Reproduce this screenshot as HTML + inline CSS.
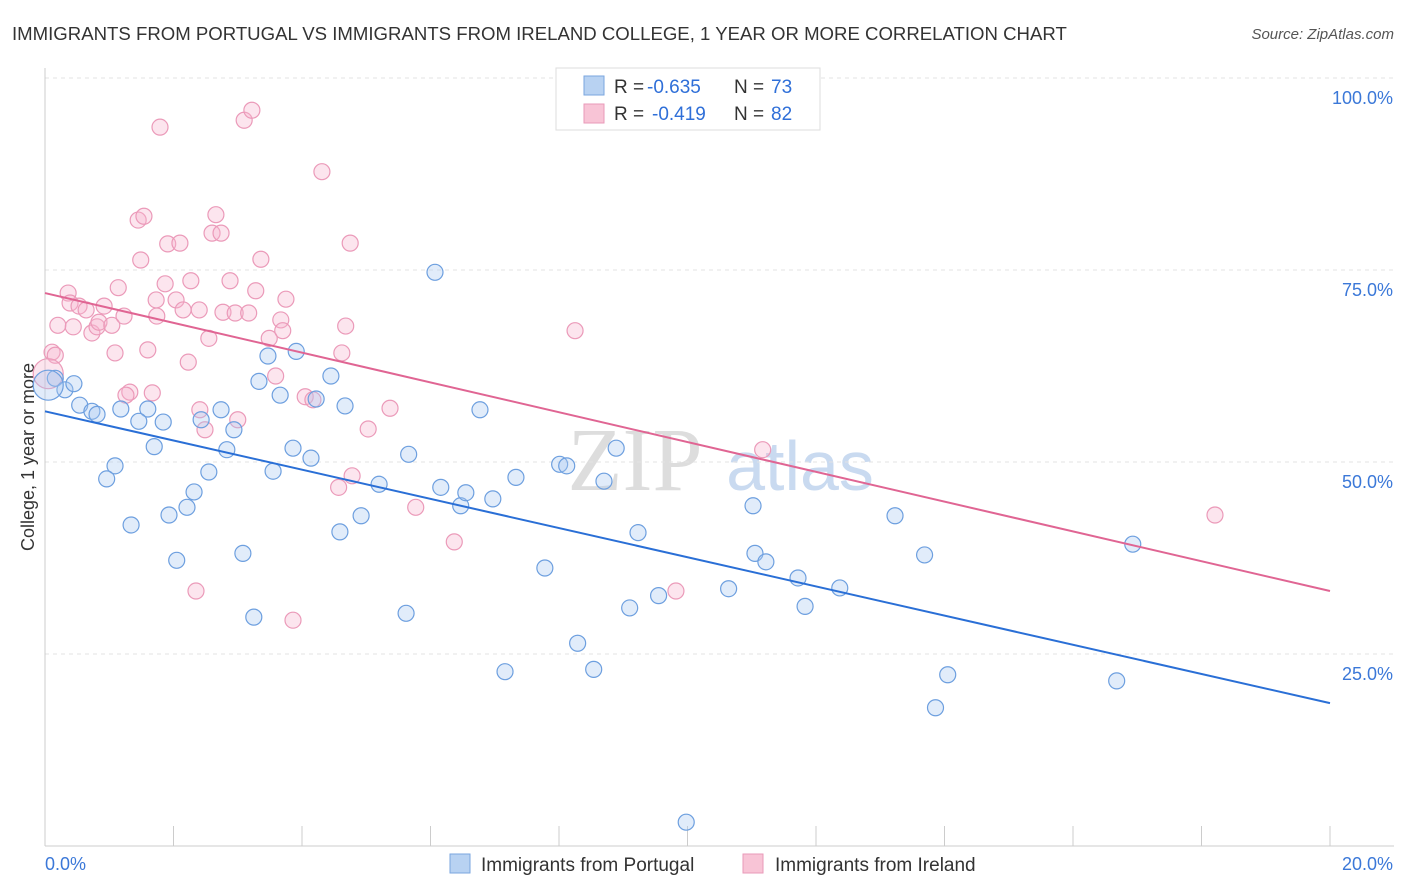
<!DOCTYPE html>
<html><head><meta charset="utf-8"><style>
body{margin:0;background:#fff;font-family:"Liberation Sans",sans-serif;}
svg{display:block}
</style></head><body>
<svg id="chart" width="1406" height="892">
<text x="12" y="40" font-size="18.6" fill="#333">IMMIGRANTS FROM PORTUGAL VS IMMIGRANTS FROM IRELAND COLLEGE, 1 YEAR OR MORE CORRELATION CHART</text>
<text x="1394" y="39" font-size="15" fill="#555" font-style="italic" text-anchor="end">Source: ZipAtlas.com</text>
<text x="34" y="457" font-size="18" fill="#333" text-anchor="middle" transform="rotate(-90 34 457)">College, 1 year or more</text>
<g>
<text x="635" y="490" font-size="90" fill="#ddd" font-family="Liberation Serif,serif" text-anchor="middle">ZIP</text>
<text x="800" y="490" font-size="70" fill="#c9daf0" text-anchor="middle">atlas</text>
</g>
<g id="grid"></g><g id="axes"></g><g id="pts"></g><g id="trends"></g>
<g>
<rect x="556" y="68" width="264" height="62" fill="#fff" stroke="#ddd"/>
<rect x="584" y="76" width="20" height="19" fill="#b8d2f2" stroke="#7aa6df"/>
<rect x="584" y="104" width="20" height="19" fill="#f8c4d6" stroke="#e99ab8"/>
<text x="614" y="93" font-size="19" fill="#333">R =</text>
<text x="647" y="93" font-size="19" fill="#2f6fd8">-0.635</text>
<text x="734" y="93" font-size="19" fill="#333">N =</text>
<text x="771" y="93" font-size="19" fill="#2f6fd8">73</text>
<text x="614" y="120" font-size="19" fill="#333">R =</text>
<text x="652" y="120" font-size="19" fill="#2f6fd8">-0.419</text>
<text x="734" y="120" font-size="19" fill="#333">N =</text>
<text x="771" y="120" font-size="19" fill="#2f6fd8">82</text>
</g>
<g>
<rect x="450" y="854" width="20" height="19" fill="#b8d2f2" stroke="#7aa6df"/>
<text x="481" y="871" font-size="19" fill="#333">Immigrants from Portugal</text>
<rect x="743" y="854" width="20" height="19" fill="#f8c4d6" stroke="#e99ab8"/>
<text x="775" y="871" font-size="19" fill="#333">Immigrants from Ireland</text>
</g>
</svg>
<script>
const yTicks=[25,50,75,100];
const yTickLabels=["25.0%","50.0%","75.0%","100.0%"];
const xEdgeLabels=["0.0%","20.0%"];
const blueX=[0.16,0.31,0.45,0.54,0.73,0.81,1.18,1.60,1.46,1.84,1.70,1.09,0.96,1.34,1.93,2.05,2.21,2.32,2.55,2.43,2.74,2.83,2.94,3.08,3.25,3.33,3.47,3.55,3.66,3.91,3.86,4.14,4.22,4.45,4.67,4.59,4.92,5.20,5.66,5.62,6.07,6.16,6.47,6.55,6.77,6.97,7.16,7.33,7.78,8.01,8.12,8.29,8.54,8.70,8.89,9.10,9.23,9.55,9.98,10.64,11.02,11.05,11.22,11.72,11.83,12.37,13.23,13.69,13.86,14.05,16.68,16.93,0.05];
const blueY=[60.9,59.4,60.2,57.4,56.6,56.2,56.9,56.9,55.3,55.2,52.0,49.5,47.8,41.8,43.1,37.2,44.1,46.1,48.7,55.5,56.8,51.6,54.2,38.1,29.8,60.5,63.8,48.8,58.7,64.4,51.8,50.5,58.2,61.2,57.3,40.9,43.0,47.1,51.0,30.3,74.7,46.7,44.3,46.0,56.8,45.2,22.7,48.0,36.2,49.7,49.5,26.4,23.0,47.5,51.8,31.0,40.8,32.6,3.1,33.5,44.3,38.1,37.0,34.9,31.2,33.6,43.0,37.9,18.0,22.3,21.5,39.3,60.0];
const pinkX=[0.11,0.20,0.16,0.36,0.44,0.39,0.53,0.64,0.73,0.81,0.84,0.92,1.04,1.09,1.14,1.23,1.32,1.26,1.45,1.54,1.60,1.49,1.67,1.73,1.79,1.74,1.87,1.91,2.04,2.10,2.15,2.23,2.27,2.40,2.35,2.41,2.49,2.55,2.60,2.66,2.74,2.77,2.88,2.96,3.00,3.10,3.17,3.22,3.28,3.36,3.49,3.59,3.67,3.70,3.75,3.86,4.05,4.17,4.31,4.57,4.62,4.68,4.75,4.78,5.03,5.37,5.77,6.37,8.25,9.82,11.17,18.21,0.05];
const pinkY=[64.3,67.8,63.9,72.0,67.6,70.7,70.3,69.8,66.8,67.6,68.2,70.3,67.8,64.2,72.7,69.0,59.1,58.7,81.5,82.0,64.6,76.3,59.0,71.1,93.6,69.0,73.2,78.4,71.1,78.5,69.8,63.0,73.6,69.8,33.2,56.8,54.2,66.1,79.8,82.2,79.8,69.5,73.6,69.4,55.5,94.5,69.4,95.8,72.3,76.4,66.1,61.2,68.5,67.1,71.2,29.4,58.5,58.1,87.8,46.7,64.2,67.7,78.5,48.2,54.3,57.0,44.1,39.6,67.1,33.2,51.6,43.1,61.5];
const blueTrend=[56.6,18.6];
const pinkTrend=[72.0,33.2];
const trendX=[0,20];
const NS="http://www.w3.org/2000/svg";
const X=v=>45+v/20*1285, Y=v=>846-v/100*768;
function mk(t,a,p){const e=document.createElementNS(NS,t);for(const k in a)e.setAttribute(k,a[k]);p.appendChild(e);return e;}
const grid=document.getElementById('grid'),axes=document.getElementById('axes'),pts=document.getElementById('pts'),tr=document.getElementById('trends');
yTicks.forEach((t,i)=>{
 const l=mk('line',{x1:45,x2:1394,y1:Y(t),y2:Y(t),stroke:'#e3e3e3','stroke-dasharray':'4,4'},grid);
 
 
 const tx=mk('text',{x:1393,y:Y(t)+26,'font-size':18,fill:'#3b78d8','text-anchor':'end'},axes);
 tx.textContent=yTickLabels[i];
 
 
});
mk('line',{x1:45,x2:1394,y1:846,y2:846,stroke:'#ccc'},axes);
mk('line',{x1:45,x2:45,y1:68,y2:846,stroke:'#ccc'},axes);
for(let i=0;i<=10;i++){const l=mk('line',{x1:X(i*2),x2:X(i*2),y1:826,y2:846,stroke:'#ccc'},axes);
 
 }
const x0=mk('text',{x:45,y:870,'font-size':18,fill:'#3b78d8'},axes);x0.textContent=xEdgeLabels[0];


const x1=mk('text',{x:1393,y:870,'font-size':18,fill:'#3b78d8','text-anchor':'end'},axes);x1.textContent=xEdgeLabels[1];


function series(xs,ys,fill,stroke,name){xs.forEach((x,i)=>{
 const big=i===xs.length-1;
 const c=mk('circle',{cx:X(x),cy:Y(ys[i]),r:big?15:8,fill:fill,stroke:stroke,'stroke-width':1.2},pts);
 
 });}
series(pinkX,pinkY,'rgba(246,180,205,0.35)','#eb9ab9','ireland');
series(blueX,blueY,'rgba(170,200,240,0.35)','#6d9fdf','portugal');
const bl=mk('line',{x1:X(trendX[0]),y1:Y(blueTrend[0]),x2:X(trendX[1]),y2:Y(blueTrend[1]),stroke:'#2a6fd6','stroke-width':2},tr);


const pl=mk('line',{x1:X(trendX[0]),y1:Y(pinkTrend[0]),x2:X(trendX[1]),y2:Y(pinkTrend[1]),stroke:'#e06593','stroke-width':2},tr);


</script>
</body></html>
